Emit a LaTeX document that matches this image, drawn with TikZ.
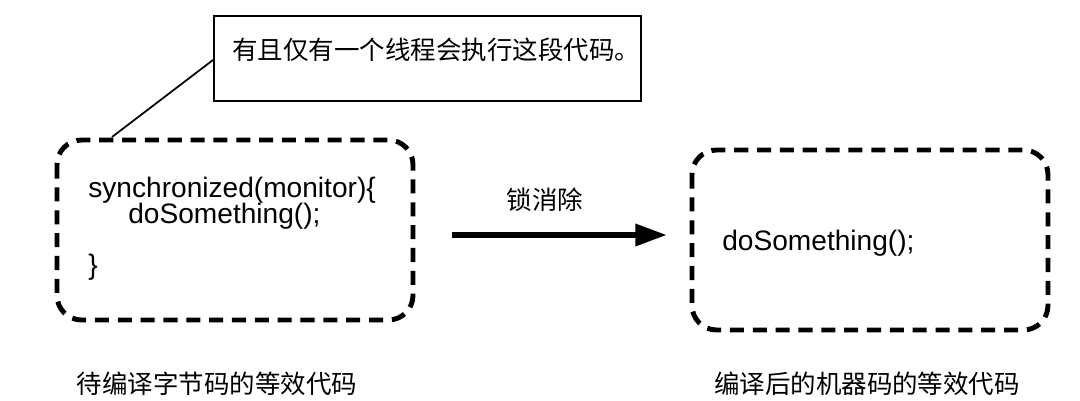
\documentclass[tikz,border=0pt]{standalone}
\usepackage{fontspec}
\setmainfont{Liberation Sans}
\newfontfamily\cjk{Noto Sans CJK SC}
\usetikzlibrary{arrows.meta}
\begin{document}
\begin{tikzpicture}[x=0.02cm,y=-0.02cm,
  dbox/.style={draw,line width=2.8pt,dash pattern=on 8pt off 5pt,rounded corners=14pt},
  code/.style={anchor=west,font=\fontsize{16}{19}\selectfont,inner sep=0},
  captxt/.style={font=\cjk\fontsize{14.5}{17}\selectfont,inner sep=0}]
\useasboundingbox (0,0) rectangle (1080,400);
\draw[dbox] (57,140) rectangle (413,320);
\draw[dbox] (692,150) rectangle (1048,330);
\node[draw,line width=1pt,minimum width=427*0.02cm,minimum height=85*0.02cm,anchor=north west] (call) at (213,15) {};
\node[captxt,font=\cjk\fontsize{14.5}{17}\selectfont,anchor=west] (calltxt) at (232,50) {有且仅有一个线程会执行这段代码。};
\coordinate (lb) at (112,137);
\draw[line width=1pt] (call.west |- 0,60) -- (lb);
\node[code] (l1) at (88,190) {synchronized(monitor)\{};
\node[code] (l2) at (128,216) {doSomething();};
\node[code] (l3) at (88,267) {\}};
\node[code] (r1) at (722,243) {doSomething();};
\coordinate (a1) at (452,235);
\coordinate (a2) at (667,235);
\draw[line width=3.5pt,-{Triangle[length=18pt,width=12pt]}] (a1) -- (a2);
\node[captxt] (lab) at (545,200) {锁消除};
\node[captxt] (c1) at (217,384) {待编译字节码的等效代码};
\node[captxt] (c2) at (867,384) {编译后的机器码的等效代码};
\end{tikzpicture}
\end{document}
